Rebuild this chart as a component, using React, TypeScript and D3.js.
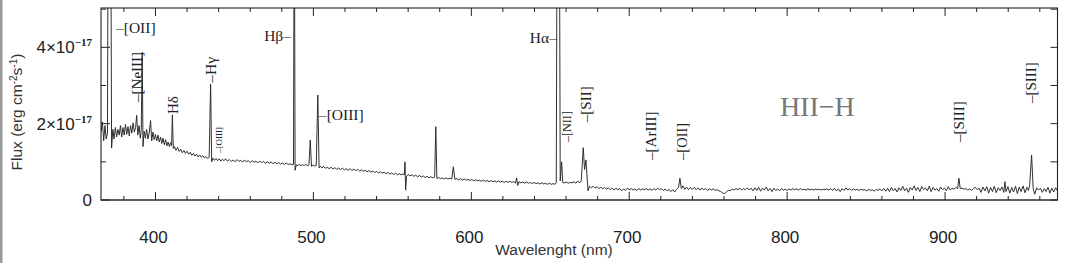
import React from 'react';
import * as d3 from 'd3';

// Spectrum: [wavelength (nm), flux (1e-17 erg cm^-2 s^-1)]
const spectrumPoints: [number, number][] = [
  [365.6, 1.8], [366.4, 2.05], [367.2, 1.55], [368.0, 1.95], [368.8, 1.6], [369.6, 1.75],
  [370.1, 9.0], [371.6, 9.0], [372.2, 1.36], [373.0, 1.85], [373.8, 1.6], [374.6, 1.9],
  [375.4, 1.65], [376.2, 1.85], [377.0, 1.7], [377.8, 1.95], [378.6, 1.65], [379.4, 1.9],
  [380.2, 1.7], [381.0, 1.98], [381.8, 1.72], [382.6, 1.92], [383.4, 1.68], [384.2, 1.95],
  [385.0, 1.75], [385.8, 2.02], [386.6, 1.78], [387.4, 1.9], [388.1, 2.22], [388.8, 1.7],
  [389.6, 1.95], [390.4, 1.62], [391.0, 1.85], [391.6, 3.87], [392.1, 1.4], [392.8, 1.8],
  [393.6, 1.62], [394.4, 1.85], [395.2, 1.6], [396.0, 1.75], [396.9, 2.08], [397.6, 1.55],
  [398.4, 1.78], [399.2, 1.58], [400.0, 1.72], [400.8, 1.55], [401.6, 1.7], [402.4, 1.52],
  [403.2, 1.65], [404.0, 1.48], [404.8, 1.62], [405.6, 1.45], [406.4, 1.58], [407.2, 1.42],
  [408.0, 1.52], [408.8, 1.4], [409.6, 1.5], [410.2, 1.42], [410.7, 2.23], [411.3, 1.35],
  [412.0, 1.4], [413.0, 1.3], [414.0, 1.38], [415.0, 1.27], [416.0, 1.33], [417.0, 1.24],
  [418.0, 1.3], [419.0, 1.22], [420.0, 1.28], [421.0, 1.2], [422.0, 1.25], [423.0, 1.17],
  [424.0, 1.22], [425.0, 1.15], [426.0, 1.2], [427.0, 1.13], [428.0, 1.18], [429.0, 1.12],
  [430.0, 1.16], [431.0, 1.1], [432.0, 1.14], [433.0, 1.09], [434.0, 1.12], [434.9, 3.04],
  [435.6, 1.0], [436.4, 1.1], [437.4, 1.04], [438.4, 1.09], [439.4, 1.03], [440.4, 1.08],
  [441.4, 1.02], [442.4, 1.07], [443.4, 1.03], [444.4, 1.08], [445.6, 1.02], [446.8, 1.06],
  [448.0, 1.01], [449.2, 1.05], [450.4, 1.0], [451.6, 1.06], [452.8, 1.01], [454.0, 1.04],
  [455.2, 0.99], [456.4, 1.05], [457.6, 1.0], [458.8, 1.03], [460.0, 0.98], [461.2, 1.03],
  [462.4, 0.99], [463.6, 1.02], [464.8, 0.97], [466.0, 1.02], [467.2, 0.98], [468.4, 1.01],
  [469.6, 0.96], [470.8, 1.0], [472.0, 0.96], [473.2, 1.0], [474.4, 0.95], [475.6, 0.99],
  [476.8, 0.95], [478.0, 0.98], [479.2, 0.94], [480.4, 0.97], [481.6, 0.93], [482.8, 0.97],
  [484.0, 0.93], [485.2, 0.95], [486.4, 0.92], [487.4, 0.93], [487.9, 9.0], [488.4, 0.78],
  [489.2, 0.92], [490.2, 0.9], [491.2, 0.94], [492.2, 0.89], [493.2, 0.93], [494.2, 0.9],
  [495.2, 0.94], [496.2, 0.89], [497.2, 0.92], [498.0, 1.57], [498.8, 0.88], [499.8, 0.92],
  [500.8, 0.89], [501.8, 0.9], [502.8, 2.75], [503.6, 0.84], [504.4, 0.89], [505.4, 0.84],
  [506.4, 0.88], [507.6, 0.83], [508.8, 0.86], [510.0, 0.82], [511.2, 0.86], [512.4, 0.81],
  [513.6, 0.85], [514.8, 0.8], [516.0, 0.84], [517.2, 0.8], [518.4, 0.83], [519.6, 0.79],
  [520.8, 0.82], [522.0, 0.78], [523.2, 0.82], [524.4, 0.77], [525.6, 0.81], [526.8, 0.77],
  [528.0, 0.8], [529.2, 0.76], [530.4, 0.79], [531.6, 0.75], [532.8, 0.78], [534.0, 0.74],
  [535.2, 0.77], [536.4, 0.73], [537.6, 0.76], [538.8, 0.72], [540.0, 0.75], [541.2, 0.71],
  [542.4, 0.74], [543.6, 0.7], [544.8, 0.73], [546.0, 0.69], [547.2, 0.72], [548.4, 0.68],
  [549.6, 0.71], [550.8, 0.67], [552.0, 0.7], [553.2, 0.66], [554.4, 0.69], [555.6, 0.66],
  [556.8, 0.68], [557.6, 0.66], [558.0, 1.0], [558.4, 0.26], [559.0, 0.62], [560.0, 0.67],
  [561.2, 0.63], [562.4, 0.66], [563.6, 0.62], [564.8, 0.65], [566.0, 0.61], [567.2, 0.64],
  [568.4, 0.6], [569.6, 0.63], [570.8, 0.59], [572.0, 0.62], [573.2, 0.58], [574.4, 0.61],
  [575.6, 0.58], [576.8, 0.6], [577.5, 1.92], [578.2, 0.56], [579.2, 0.59], [580.4, 0.56],
  [581.6, 0.58], [582.8, 0.55], [584.0, 0.58], [585.2, 0.55], [586.4, 0.57], [587.6, 0.55],
  [588.6, 0.87], [589.6, 0.54], [590.8, 0.56], [592.0, 0.53], [593.2, 0.56], [594.4, 0.52],
  [595.6, 0.55], [596.8, 0.52], [598.0, 0.54], [599.2, 0.51], [600.4, 0.54], [601.6, 0.5],
  [602.8, 0.53], [604.0, 0.5], [605.2, 0.52], [606.4, 0.49], [607.6, 0.52], [608.8, 0.49],
  [610.0, 0.51], [611.2, 0.48], [612.4, 0.51], [613.6, 0.48], [614.8, 0.5], [616.0, 0.47],
  [617.2, 0.5], [618.4, 0.47], [619.6, 0.49], [620.8, 0.46], [622.0, 0.49], [623.2, 0.46],
  [624.4, 0.49], [625.6, 0.46], [626.8, 0.48], [628.0, 0.44], [628.7, 0.58], [629.4, 0.38],
  [630.2, 0.48], [631.4, 0.45], [632.6, 0.47], [633.8, 0.44], [635.0, 0.47], [636.2, 0.44],
  [637.4, 0.46], [638.6, 0.43], [639.8, 0.46], [641.0, 0.43], [642.2, 0.45], [643.4, 0.42],
  [644.6, 0.45], [645.8, 0.42], [647.0, 0.44], [648.2, 0.41], [649.4, 0.44], [650.6, 0.41],
  [651.8, 0.43], [653.0, 0.41], [653.8, 0.45], [654.4, 9.0], [655.7, 9.0], [656.3, 0.5],
  [657.2, 1.0], [657.9, 0.46], [659.0, 0.45], [660.2, 0.47], [661.4, 0.44], [662.6, 0.46],
  [663.8, 0.45], [665.0, 0.48], [666.2, 0.44], [667.4, 0.5], [668.6, 0.45], [669.6, 0.5],
  [670.9, 1.37], [671.7, 0.8], [672.6, 1.05], [673.9, 0.24], [674.8, 0.36], [676.0, 0.32],
  [677.2, 0.36], [678.4, 0.31], [679.6, 0.35], [680.8, 0.3], [682.0, 0.34], [683.2, 0.29],
  [684.4, 0.33], [685.6, 0.28], [686.8, 0.32], [688.0, 0.27], [689.2, 0.31], [690.4, 0.26],
  [691.6, 0.31], [692.8, 0.27], [694.0, 0.3], [695.2, 0.24], [696.4, 0.29], [697.6, 0.25],
  [698.8, 0.31], [700.0, 0.27], [701.2, 0.3], [702.4, 0.26], [703.6, 0.29], [704.8, 0.25],
  [706.0, 0.3], [707.2, 0.26], [708.4, 0.29], [709.6, 0.27], [710.8, 0.3], [712.0, 0.26],
  [713.2, 0.29], [714.4, 0.25], [715.6, 0.3], [716.8, 0.26], [718.0, 0.31], [719.2, 0.27],
  [720.4, 0.3], [721.6, 0.25], [722.8, 0.29], [724.0, 0.24], [725.2, 0.28], [726.4, 0.22],
  [727.6, 0.27], [728.8, 0.21], [730.0, 0.28], [731.2, 0.33], [732.1, 0.57], [733.0, 0.3],
  [734.0, 0.37], [735.2, 0.28], [736.4, 0.34], [737.6, 0.27], [738.8, 0.33], [740.0, 0.28],
  [741.2, 0.33], [742.4, 0.27], [743.6, 0.32], [744.8, 0.26], [746.0, 0.31], [747.2, 0.27],
  [748.4, 0.3], [749.6, 0.25], [750.8, 0.29], [752.0, 0.26], [753.2, 0.29], [754.4, 0.25],
  [755.6, 0.27], [756.8, 0.24], [758.0, 0.22], [759.2, 0.18], [760.4, 0.17], [761.6, 0.21],
  [762.8, 0.26], [764.0, 0.24], [765.2, 0.29], [766.4, 0.26], [767.6, 0.3], [768.8, 0.27],
  [770.0, 0.31], [771.2, 0.26], [772.4, 0.3], [773.6, 0.27], [774.8, 0.32], [776.0, 0.26],
  [777.2, 0.31], [778.4, 0.24], [779.6, 0.32], [780.8, 0.25], [782.0, 0.33], [783.2, 0.23],
  [784.4, 0.31], [785.6, 0.26], [786.8, 0.34], [788.0, 0.24], [789.2, 0.3], [790.4, 0.22],
  [791.6, 0.31], [792.8, 0.25], [794.0, 0.29], [795.2, 0.24], [796.4, 0.3], [797.6, 0.26],
  [798.8, 0.28], [800.0, 0.25], [801.2, 0.29], [802.4, 0.26], [803.6, 0.3], [804.8, 0.27],
  [806.0, 0.29], [807.2, 0.26], [808.4, 0.3], [809.6, 0.27], [810.8, 0.28], [812.0, 0.26],
  [813.2, 0.29], [814.4, 0.27], [815.6, 0.28], [816.8, 0.26], [818.0, 0.29], [819.2, 0.27],
  [820.4, 0.28], [821.6, 0.26], [822.8, 0.28], [824.0, 0.27], [825.2, 0.29], [826.4, 0.26],
  [827.6, 0.3], [828.8, 0.25], [830.0, 0.31], [831.2, 0.24], [832.4, 0.29], [833.6, 0.22],
  [834.8, 0.3], [836.0, 0.25], [837.2, 0.32], [838.4, 0.26], [839.6, 0.3], [840.8, 0.25],
  [842.0, 0.29], [843.2, 0.26], [844.4, 0.28], [845.6, 0.25], [846.8, 0.28], [848.0, 0.26],
  [849.2, 0.27], [850.4, 0.24], [851.6, 0.28], [852.8, 0.25], [854.0, 0.27], [855.2, 0.23],
  [856.4, 0.28], [857.6, 0.25], [858.8, 0.29], [860.0, 0.24], [861.2, 0.3], [862.4, 0.23],
  [863.6, 0.31], [864.8, 0.22], [866.0, 0.33], [867.2, 0.24], [868.4, 0.3], [869.6, 0.21],
  [870.8, 0.32], [872.0, 0.25], [873.2, 0.36], [874.4, 0.24], [875.6, 0.31], [876.8, 0.2],
  [878.0, 0.33], [879.2, 0.26], [880.4, 0.37], [881.6, 0.25], [882.8, 0.33], [884.0, 0.22],
  [885.2, 0.35], [886.4, 0.27], [887.6, 0.32], [888.8, 0.24], [890.0, 0.36], [891.2, 0.22],
  [892.4, 0.33], [893.6, 0.26], [894.8, 0.3], [896.0, 0.23], [897.2, 0.34], [898.4, 0.27],
  [899.6, 0.31], [900.8, 0.24], [902.0, 0.35], [903.2, 0.26], [904.4, 0.31], [905.6, 0.28],
  [906.8, 0.33], [908.0, 0.3], [908.8, 0.57], [909.6, 0.3], [910.8, 0.31], [912.0, 0.28],
  [913.2, 0.3], [914.4, 0.26], [915.6, 0.29], [916.8, 0.25], [918.0, 0.3], [919.2, 0.33],
  [920.4, 0.27], [921.6, 0.31], [922.8, 0.2], [924.0, 0.34], [925.2, 0.24], [926.4, 0.35],
  [927.6, 0.18], [928.8, 0.33], [930.0, 0.22], [931.2, 0.36], [932.4, 0.19], [933.6, 0.32],
  [934.8, 0.25], [936.0, 0.34], [937.2, 0.2], [937.9, 0.48], [938.6, 0.22], [939.8, 0.35],
  [941.0, 0.18], [942.2, 0.33], [943.4, 0.21], [944.6, 0.36], [945.8, 0.17], [947.0, 0.34],
  [948.2, 0.22], [949.4, 0.37], [950.6, 0.19], [951.8, 0.33], [952.8, 0.25], [953.6, 0.4],
  [954.8, 1.18], [955.8, 0.3], [956.8, 0.15], [958.0, 0.32], [959.2, 0.26], [960.4, 0.31],
  [961.6, 0.2], [962.8, 0.3], [964.0, 0.22], [965.2, 0.33], [966.4, 0.18], [967.6, 0.31],
  [968.8, 0.21], [970.0, 0.32], [971.2, 0.24],
];

const xDomain: [number, number] = [365.5, 971.2];
const yDomain: [number, number] = [0, 5.03];
const xMajorTicks = [400, 500, 600, 700, 800, 900];
const xMinorTicks = d3.range(380, 971, 20);
const yLabelTicks = [0, 2, 4];
const yLabelMantissa = ['0', '2×10', '4×10'];
const yExponent = '−17';
const yAllTicks = [0, 1, 2, 3, 4, 5];

// Line annotations: text, wavelength/flux anchor
const horizontalLabels = [
  { text: '–[OII]', wl: 375.0, f: 4.51, anchor: 'start' },
  { text: 'Hβ–', wl: 485.8, f: 4.32, anchor: 'end' },
  { text: '–[OIII]', wl: 503.5, f: 2.23, anchor: 'start' },
  { text: 'Hα–', wl: 654.2, f: 4.26, anchor: 'end' },
];
const verticalLabels = [
  { text: '–[NeIII]', wl: 388.5, f: 2.57, size: 15 },
  { text: 'Hδ', wl: 411.0, f: 2.25, size: 15 },
  { text: '–Hγ', wl: 435.1, f: 3.07, size: 15.5 },
  { text: '–[OIII]', wl: 440.2, f: 1.23, size: 9 },
  { text: '–[NII]', wl: 660.6, f: 1.52, size: 12 },
  { text: '–[SII]', wl: 672.9, f: 2.04, size: 15 },
  { text: '–[ArIII]', wl: 714.1, f: 1.05, size: 15 },
  { text: '–[OII]', wl: 733.7, f: 1.05, size: 14.5 },
  { text: '–[SIII]', wl: 908.8, f: 1.52, size: 15 },
  { text: '–[SIII]', wl: 954.2, f: 2.54, size: 15 },
];
const regionTitle = { text: 'HII−H', wl: 795.4, f: 2.2 };

const PL = 101, PR = 1057.5, PT = 8, PB = 200;
const SANS = '"Liberation Sans", Arial, sans-serif';
const SERIF = '"Liberation Serif", "Times New Roman", serif';

export default function App() {
  const x = d3.scaleLinear().domain(xDomain).range([PL, PR]);
  const y = d3.scaleLinear().domain(yDomain).range([PB, PT]);
  const line = d3
    .line<[number, number]>()
    .x((d) => x(d[0]))
    .y((d) => y(d[1]));

  return (
    <svg
      width={1068}
      height={263}
      style={{ position: 'absolute', left: 0, top: 0, background: '#fff' }}
    >
      <rect x={0} y={0} width={1068} height={263} fill="#fff" />
      <rect x={0} y={0} width={2.5} height={263} fill="#9a9a9a" />
      <defs>
        <clipPath id="plotClip">
          <rect x={PL} y={PT} width={PR - PL} height={PB - PT} />
        </clipPath>
      </defs>

      {/* spectrum */}
      <path
        d={line(spectrumPoints) || ''}
        fill="none"
        stroke="#262626"
        strokeWidth={0.95}
        strokeLinejoin="round"
        clipPath="url(#plotClip)"
      />

      {/* frame */}
      <rect x={PL} y={PT} width={PR - PL} height={PB - PT} fill="none" stroke="#222" strokeWidth={1.1} />
      <line x1={PL} x2={PR} y1={PB} y2={PB} stroke="#555" strokeWidth={1.6} />

      {/* x ticks */}
      {xMinorTicks.map((t) => {
        const major = t % 100 === 0;
        const len = major ? 8 : 4;
        return (
          <g key={'xt' + t}>
            <line x1={x(t)} x2={x(t)} y1={PB} y2={PB - len} stroke="#222" strokeWidth={1} />
            <line x1={x(t)} x2={x(t)} y1={PT} y2={PT + len} stroke="#222" strokeWidth={1} />
          </g>
        );
      })}
      {xMajorTicks.map((t) => (
        <text
          key={'xl' + t}
          x={x(t) - 2}
          y={243}
          textAnchor="middle"
          fontFamily={SANS}
          fontSize={17}
          fill="#222"
        >
          {t}
        </text>
      ))}

      {/* y ticks */}
      {yAllTicks.map((t) => {
        const major = t % 2 === 0;
        return (
          <g key={'yt' + t}>
            <line x1={PL} x2={PL + (major ? 9 : 5)} y1={y(t)} y2={y(t)} stroke="#222" strokeWidth={1} />
            <line x1={PR} x2={PR - 7} y1={y(t)} y2={y(t)} stroke="#222" strokeWidth={1} />
          </g>
        );
      })}
      {yLabelTicks.map((t, i) => (
        <text
          key={'yl' + t}
          x={92}
          y={y(t) + 6}
          textAnchor="end"
          fontFamily={SANS}
          fontSize={17}
          fill="#222"
        >
          {yLabelMantissa[i]}
          {t !== 0 && (
            <tspan dy={-7} fontSize={11} fontFamily={SERIF} fontWeight="bold">
              {yExponent}
            </tspan>
          )}
        </text>
      ))}

      {/* axis titles */}
      <text
        transform={`translate(22,${(PT + PB) / 2 + 8}) rotate(-90)`}
        textAnchor="middle"
        fontFamily={SANS}
        fontSize={15.5}
        fill="#333"
      >
        Flux (erg cm
        <tspan dy={-5} fontSize={10}>-2</tspan>
        <tspan dy={5}>s</tspan>
        <tspan dy={-5} fontSize={10}>-1</tspan>
        <tspan dy={5}>)</tspan>
      </text>
      <text x={554} y={255} textAnchor="middle" fontFamily={SANS} fontSize={15.5} fill="#333">
        Wavelenght (nm)
      </text>

      {/* line labels */}
      {horizontalLabels.map((l, i) => (
        <text
          key={'hl' + i}
          x={x(l.wl)}
          y={y(l.f)}
          textAnchor={l.anchor}
          dominantBaseline="central"
          fontFamily={SERIF}
          fontSize={15.5}
          fill="#222"
        >
          {l.text}
        </text>
      ))}
      {verticalLabels.map((l, i) => (
        <text
          key={'vl' + i}
          transform={`translate(${x(l.wl)},${y(l.f)}) rotate(-90)`}
          textAnchor="start"
          dominantBaseline="central"
          fontFamily={SERIF}
          fontSize={l.size}
          fill="#222"
        >
          {l.text}
        </text>
      ))}
      <text
        x={x(regionTitle.wl)}
        y={y(regionTitle.f)}
        fontFamily={SERIF}
        fontSize={28}
        fill="#777"
      >
        {regionTitle.text}
      </text>
    </svg>
  );
}
